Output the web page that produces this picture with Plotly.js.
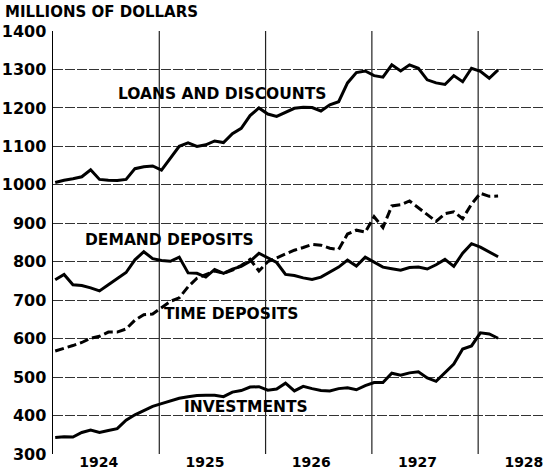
<!DOCTYPE html>
<html>
<head>
<meta charset="utf-8">
<script src="https://cdn.plot.ly/plotly-3.0.1.min.js"></script>
<style>html,body{margin:0;padding:0;background:#fff;}#chart{width:543px;height:472px;}</style>
</head>
<body>
<div id="chart"></div>
<script>
const startYear = 1924;
const yearLabels = ["1924", "1925", "1926", "1927", "1928"];
const yTicks = [300, 400, 500, 600, 700, 800, 900, 1000, 1100, 1200, 1300, 1400];
const seriesNames = ["LOANS AND DISCOUNTS", "DEMAND DEPOSITS", "TIME DEPOSITS", "INVESTMENTS"];
const unitLabel = "MILLIONS OF DOLLARS";

const loans = [1006,1012,1016,1021,1039,1014,1012,1011,1014,1042,1047,1049,1038,1068,1100,1109,1100,1104,1114,1110,1133,1147,1180,1200,1184,1178,1188,1199,1202,1201,1192,1208,1216,1265,1292,1296,1284,1280,1312,1296,1312,1303,1273,1265,1261,1284,1268,1303,1295,1277,1299];
const demand = [753,767,740,738,732,724,740,756,772,805,826,808,803,801,812,771,770,760,780,770,781,788,801,822,810,798,767,764,758,754,760,772,786,804,789,812,798,786,782,778,785,786,781,792,806,788,822,847,838,826,813];
const timeDep = [568,574,582,590,601,606,617,617,625,648,662,664,680,697,706,735,757,766,776,770,778,790,806,776,800,810,821,830,837,845,843,835,832,872,882,877,917,889,945,948,958,940,924,905,925,930,912,950,978,970,971];
const invest = [343,345,344,356,362,356,361,366,388,402,413,424,431,439,445,449,452,453,453,449,461,465,474,475,466,469,484,464,476,470,465,464,470,472,467,478,486,486,510,505,511,514,498,489,512,534,573,581,615,612,601];

const xs = loans.map((_, i) => startYear + (i + 0.25) / 12);
const yearStarts = yearLabels.map(y => +y);
const yearMids = yearLabels.map(y => +y + 0.43);

const lineStyle = {color: "#000", width: 3};
const traces = [
  {x: xs, y: loans, mode: "lines", line: lineStyle},
  {x: xs, y: demand, mode: "lines", line: lineStyle},
  {x: xs, y: timeDep, mode: "lines", line: {color: "#000", width: 3, dash: "9px,4px"}},
  {x: xs, y: invest, mode: "lines", line: lineStyle}
].map(t => Object.assign(t, {showlegend: false, hoverinfo: "skip"}));

const font = {family: "DejaVu Sans", color: "#000"};
const labelPos = [
  {x: 1925.59, y: 1236},
  {x: 1925.10, y: 857},
  {x: 1925.67, y: 665},
  {x: 1925.82, y: 423}
];
const annotations = seriesNames.map((n, i) => ({
  text: n, x: labelPos[i].x, y: labelPos[i].y, xref: "x", yref: "y",
  showarrow: false, xanchor: "center", yanchor: "middle",
  font: Object.assign({}, font, {size: 15.5, weight: "bold"})
}));

const shapes = yearStarts.slice(1).map(y => ({
  type: "line", xref: "x", yref: "paper", x0: y, x1: y, y0: 0, y1: 1,
  line: {color: "#222", width: 1.2}, layer: "below"
}));

const layout = {
  width: 543, height: 472,
  margin: {l: 53, r: 0, t: 31, b: 18, pad: 0},
  paper_bgcolor: "#fff", plot_bgcolor: "#fff",
  title: {text: unitLabel, x: 5/543, xanchor: "left", y: 1 - 12/472, yanchor: "middle",
          font: Object.assign({}, font, {size: 15, weight: "bold"})},
  xaxis: {
    range: [1924, 1928.61], tickmode: "array", tickvals: yearMids, ticktext: yearLabels,
    showgrid: false, zeroline: false, showline: false, ticks: "",
    ticklabeloverflow: "allow", ticklabelstandoff: -2,
    tickfont: Object.assign({}, font, {size: 14, weight: "bold"}), fixedrange: true
  },
  yaxis: {
    range: [300, 1400], tickmode: "array", tickvals: yTicks, ticktext: yTicks.map(String),
    showgrid: true, gridcolor: "#333", gridwidth: 1, griddash: "10px,2px",
    zeroline: false, showline: true, linecolor: "#000", linewidth: 1.5, ticks: "",
    ticklabelstandoff: 2,
    tickfont: Object.assign({}, font, {size: 16, weight: "bold"}), fixedrange: true
  },
  shapes: shapes,
  annotations: annotations
};

Plotly.newPlot("chart", traces, layout, {displayModeBar: false, staticPlot: true});
</script>
</body>
</html>
